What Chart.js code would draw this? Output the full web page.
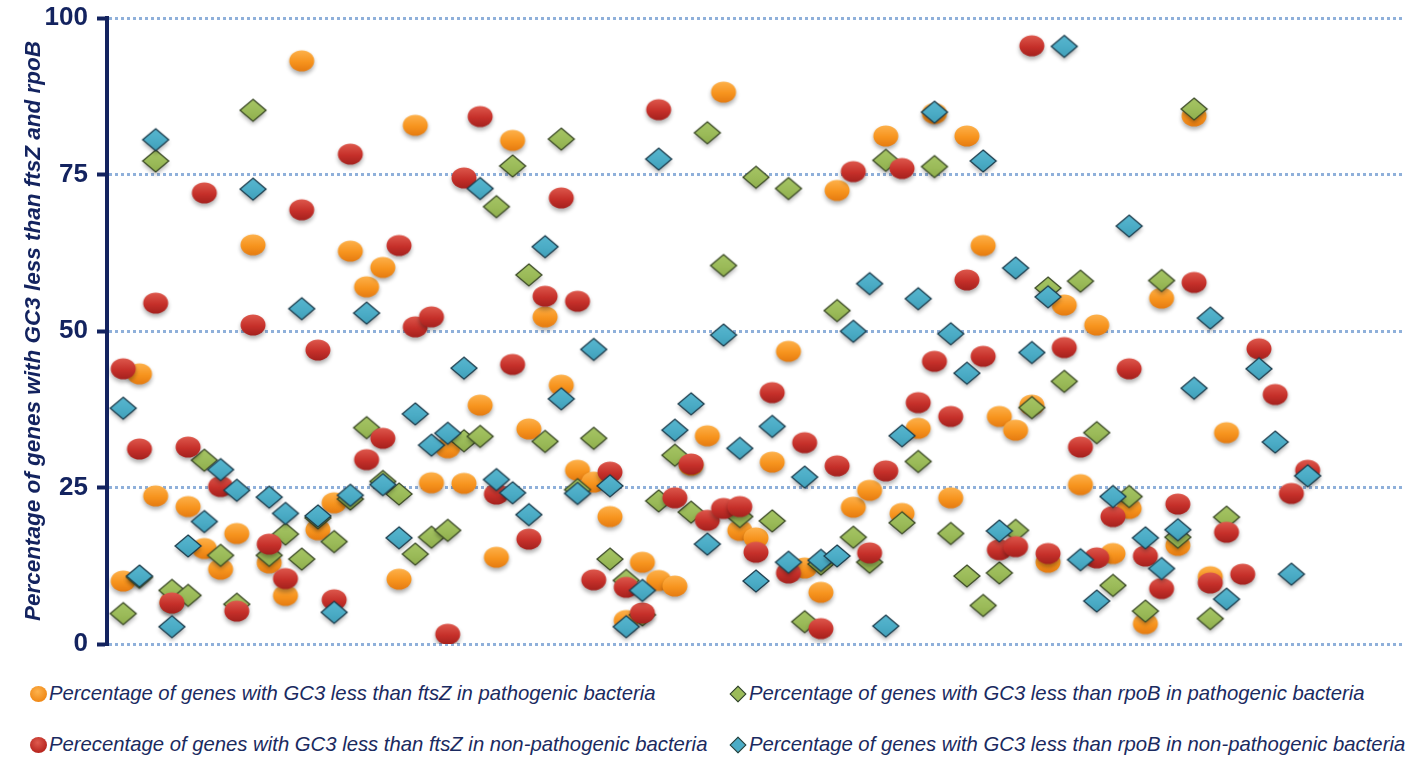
<!DOCTYPE html>
<html>
<head>
<meta charset="utf-8">
<script src="https://cdn.jsdelivr.net/npm/chart.js@4"></script>
<style>
  body { margin: 0; background: #fff; }
  #wrap { position: relative; width: 1421px; height: 757px; overflow: hidden; }
  #plot { position: absolute; left: 0; top: 0; width: 1421px; height: 665px; }
  #legend { position: absolute; left: 0; top: 668px; width: 1421px; }
  .lg-item { position: absolute; display: flex; align-items: center; white-space: nowrap;
    font: italic 20.3px "Liberation Sans", Arial, sans-serif; color: #1a2a60; }
  .lg-dot { width: 17px; height: 16px; border-radius: 50%; margin-right: 2px; }
  .lg-dia { width: 10px; height: 10px; transform: rotate(45deg); border: 1px solid #2c3a30; margin: 0 5px 0 3px; }
</style>
</head>
<body>
<div id="wrap">
  <div id="plot"><canvas id="chart"></canvas></div>
  <div id="legend"></div>
</div>
<script>
// Values per genome, genome n sits at x = n (1-based)
const pathFtsZ = [9.9, 43.0, 23.5, 6.5, 21.8, 15.1, 11.8, 17.5, 63.6, 12.8,
  7.6, 93.0, 18.1, 22.4, 62.6, 56.9, 60.0, 10.2, 82.7, 25.6,
  31.2, 25.5, 38.0, 13.7, 80.3, 34.2, 52.1, 41.2, 27.6, 25.7,
  20.2, 3.6, 12.9, 10.0, 9.1, 28.4, 33.1, 88.0, 18.0, 16.8,
  28.9, 46.6, 12.0, 8.1, 72.3, 21.7, 24.4, 81.0, 20.7, 34.3,
  84.6, 23.2, 81.0, 63.5, 36.2, 34.0, 38.0, 12.9, 54.0, 25.3,
  50.8, 14.3, 21.5, 3.1, 55.1, 15.6, 84.2, 10.6, 33.6];

const pathRpoB = [4.7, 10.5, 77.0, 8.4, 7.6, 29.2, 14.0, 6.2, 85.1, 14.0,
  17.4, 13.4, 20.0, 16.2, 23.0, 34.4, 25.8, 23.8, 14.2, 16.9,
  18.0, 32.3, 33.0, 69.7, 76.2, 58.8, 32.2, 80.5, 24.5, 32.7,
  13.4, 10.0, 4.5, 22.7, 30.0, 20.9, 81.5, 60.3, 20.2, 74.4,
  19.5, 72.6, 3.4, 12.6, 53.1, 16.9, 12.9, 77.1, 19.2, 29.0,
  76.1, 17.5, 10.7, 6.0, 11.2, 18.0, 37.6, 56.7, 41.8, 57.8,
  33.6, 9.2, 23.4, 5.1, 57.9, 16.9, 85.3, 3.9, 20.1];

const nonPathFtsZ = [43.8, 31.0, 54.3, 6.4, 31.3, 71.9, 25.0, 5.1, 50.8, 15.8,
  10.3, 69.2, 46.8, 6.9, 78.1, 29.3, 32.7, 63.5, 50.5, 52.1,
  1.4, 74.3, 84.1, 23.8, 44.5, 16.6, 55.4, 71.1, 54.6, 10.1,
  27.3, 8.9, 4.8, 85.2, 23.2, 28.6, 19.6, 21.5, 21.8, 14.5,
  40.0, 11.2, 32.0, 2.3, 28.3, 75.3, 14.4, 27.5, 75.8, 38.4,
  45.0, 36.2, 58.0, 45.8, 14.9, 15.4, 95.4, 14.3, 47.2, 31.3,
  13.6, 20.2, 43.8, 13.9, 8.7, 22.2, 57.6, 9.6, 17.7, 11.0,
  47.0, 39.7, 23.9, 27.6];

const nonPathRpoB = [37.5, 10.7, 80.4, 2.6, 15.5, 19.4, 27.7, 24.4, 72.5, 23.3,
  20.7, 53.4, 20.3, 4.9, 23.6, 52.7, 25.3, 16.8, 36.6, 31.6,
  33.5, 43.9, 72.6, 26.1, 24.0, 20.5, 63.3, 39.0, 23.9, 46.9,
  25.1, 2.6, 8.4, 77.3, 34.0, 38.2, 15.8, 49.2, 31.1, 9.9,
  34.6, 12.9, 26.5, 13.2, 13.9, 49.8, 57.4, 2.7, 33.1, 55.0,
  84.8, 49.4, 43.1, 77.0, 17.9, 59.9, 46.4, 55.3, 95.3, 13.3,
  6.7, 23.4, 66.6, 16.8, 11.9, 18.1, 40.7, 51.9, 7.0, null,
  43.8, 32.1, 11.0, 26.7];

const seriesLabels = [
  'Percentage of genes with GC3 less than ftsZ in pathogenic bacteria',
  'Percentage of genes with GC3 less than rpoB in pathogenic bacteria',
  'Perecentage of genes with GC3 less than ftsZ in non-pathogenic bacteria',
  'Percentage of genes with GC3 less than rpoB in non-pathogenic bacteria',
];
const yTicks = [0, 25, 50, 75, 100];
const yTitle = 'Percentage of genes with GC3 less than ftsZ and rpoB';

const NAVY = '#13235f';
const FONT = '"Liberation Sans", Arial, sans-serif';

function toPoints(arr) {
  return arr.map((v, i) => v == null ? null : { x: i + 1, y: v }).filter(Boolean);
}

// glossy marker sprites
function marker(kind, top, mid, bottom, stroke) {
  const cv = document.createElement('canvas');
  cv.width = 36; cv.height = 34;
  const ctx = cv.getContext('2d');
  const cx = 18, cy = 16;
  ctx.shadowColor = 'rgba(0,0,0,0.32)';
  ctx.shadowBlur = 4;
  ctx.shadowOffsetY = 3;
  ctx.beginPath();
  if (kind === 'circle') {
    ctx.ellipse(cx, cy, 12.5, 10.5, 0, 0, Math.PI * 2);
  } else {
    ctx.moveTo(cx, cy - 11); ctx.lineTo(cx + 13, cy);
    ctx.lineTo(cx, cy + 11); ctx.lineTo(cx - 13, cy); ctx.closePath();
  }
  const g = ctx.createLinearGradient(0, cy - 11, 0, cy + 11);
  g.addColorStop(0, top); g.addColorStop(0.55, mid); g.addColorStop(1, bottom);
  ctx.fillStyle = g;
  ctx.fill();
  if (stroke) {
    ctx.shadowColor = 'transparent';
    ctx.lineWidth = 1.3;
    ctx.strokeStyle = stroke;
    ctx.stroke();
  }
  return cv;
}

const styles = [
  { img: marker('circle', '#fdb24d', '#f7941e', '#e47a10'), css: 'lg-dot', bg: 'radial-gradient(circle at 45% 35%, #fdb24d, #f08a18 70%)' },
  { img: marker('diamond', '#a6c565', '#9bbb59', '#8fae4d', '#3b4a26'), css: 'lg-dia', bg: '#9bbb59' },
  { img: marker('circle', '#de5a4e', '#c6302a', '#a2201d'), css: 'lg-dot', bg: 'radial-gradient(circle at 45% 35%, #de5a4e, #b8261f 70%)' },
  { img: marker('diamond', '#58b6cf', '#4bacc6', '#409fb8', '#1c3c4c'), css: 'lg-dia', bg: '#4bacc6' },
];

const seriesData = [pathFtsZ, pathRpoB, nonPathFtsZ, nonPathRpoB];
const drawOrder = [4, 3, 2, 1]; // blue on top, orange at the back

const chart = new Chart(document.getElementById('chart'), {
  type: 'scatter',
  data: {
    datasets: seriesData.map((arr, i) => ({
      label: seriesLabels[i],
      data: toPoints(arr),
      pointStyle: styles[i].img,
      pointRadius: 12,
      order: drawOrder[i],
    })),
  },
  options: {
    responsive: true, maintainAspectRatio: false, animation: false,
    layout: { padding: { top: 18, right: 16, bottom: 21, left: 0 } },
    plugins: { legend: { display: false }, tooltip: { enabled: false } },
    scales: {
      x: { type: 'linear', min: 0, max: 80, display: false },
      y: {
        min: 0, max: 100,
        // fixed axis width; labels may overhang the top/bottom padding
        afterFit: s => { s.width = 107; s.paddingTop = 0; s.paddingBottom = 0; },
        afterBuildTicks: s => { s.ticks = yTicks.map(v => ({ value: v })); },
        ticks: { color: NAVY, padding: 9, font: { family: FONT, size: 26, weight: 'bold' } },
        grid: { color: '#8fb0da', lineWidth: 3, tickColor: NAVY, tickWidth: 4, tickLength: 10, tickBorderDash: [] },
        border: { display: true, color: NAVY, width: 4, dash: [3, 3] },
        title: {
          display: true, text: yTitle, color: NAVY,
          font: { family: FONT, size: 22.5, weight: 'bold', style: 'italic' },
          padding: { top: 20, bottom: 0 },
        },
      },
    },
  },
});

// two-column legend under the plot, same order as the series arrays
const legend = document.getElementById('legend');
const slots = [[30, 0], [729, 0], [30, 51], [729, 51]];
chart.data.datasets.forEach((ds, i) => {
  const item = document.createElement('div');
  item.className = 'lg-item';
  item.style.left = slots[i][0] + 'px';
  item.style.top = slots[i][1] + 'px';
  item.style.height = '51px';
  const m = document.createElement('span');
  m.className = styles[i].css;
  m.style.background = styles[i].bg;
  item.appendChild(m);
  const t = document.createElement('span');
  t.textContent = ds.label;
  item.appendChild(t);
  legend.appendChild(item);
});
</script>
</body>
</html>
